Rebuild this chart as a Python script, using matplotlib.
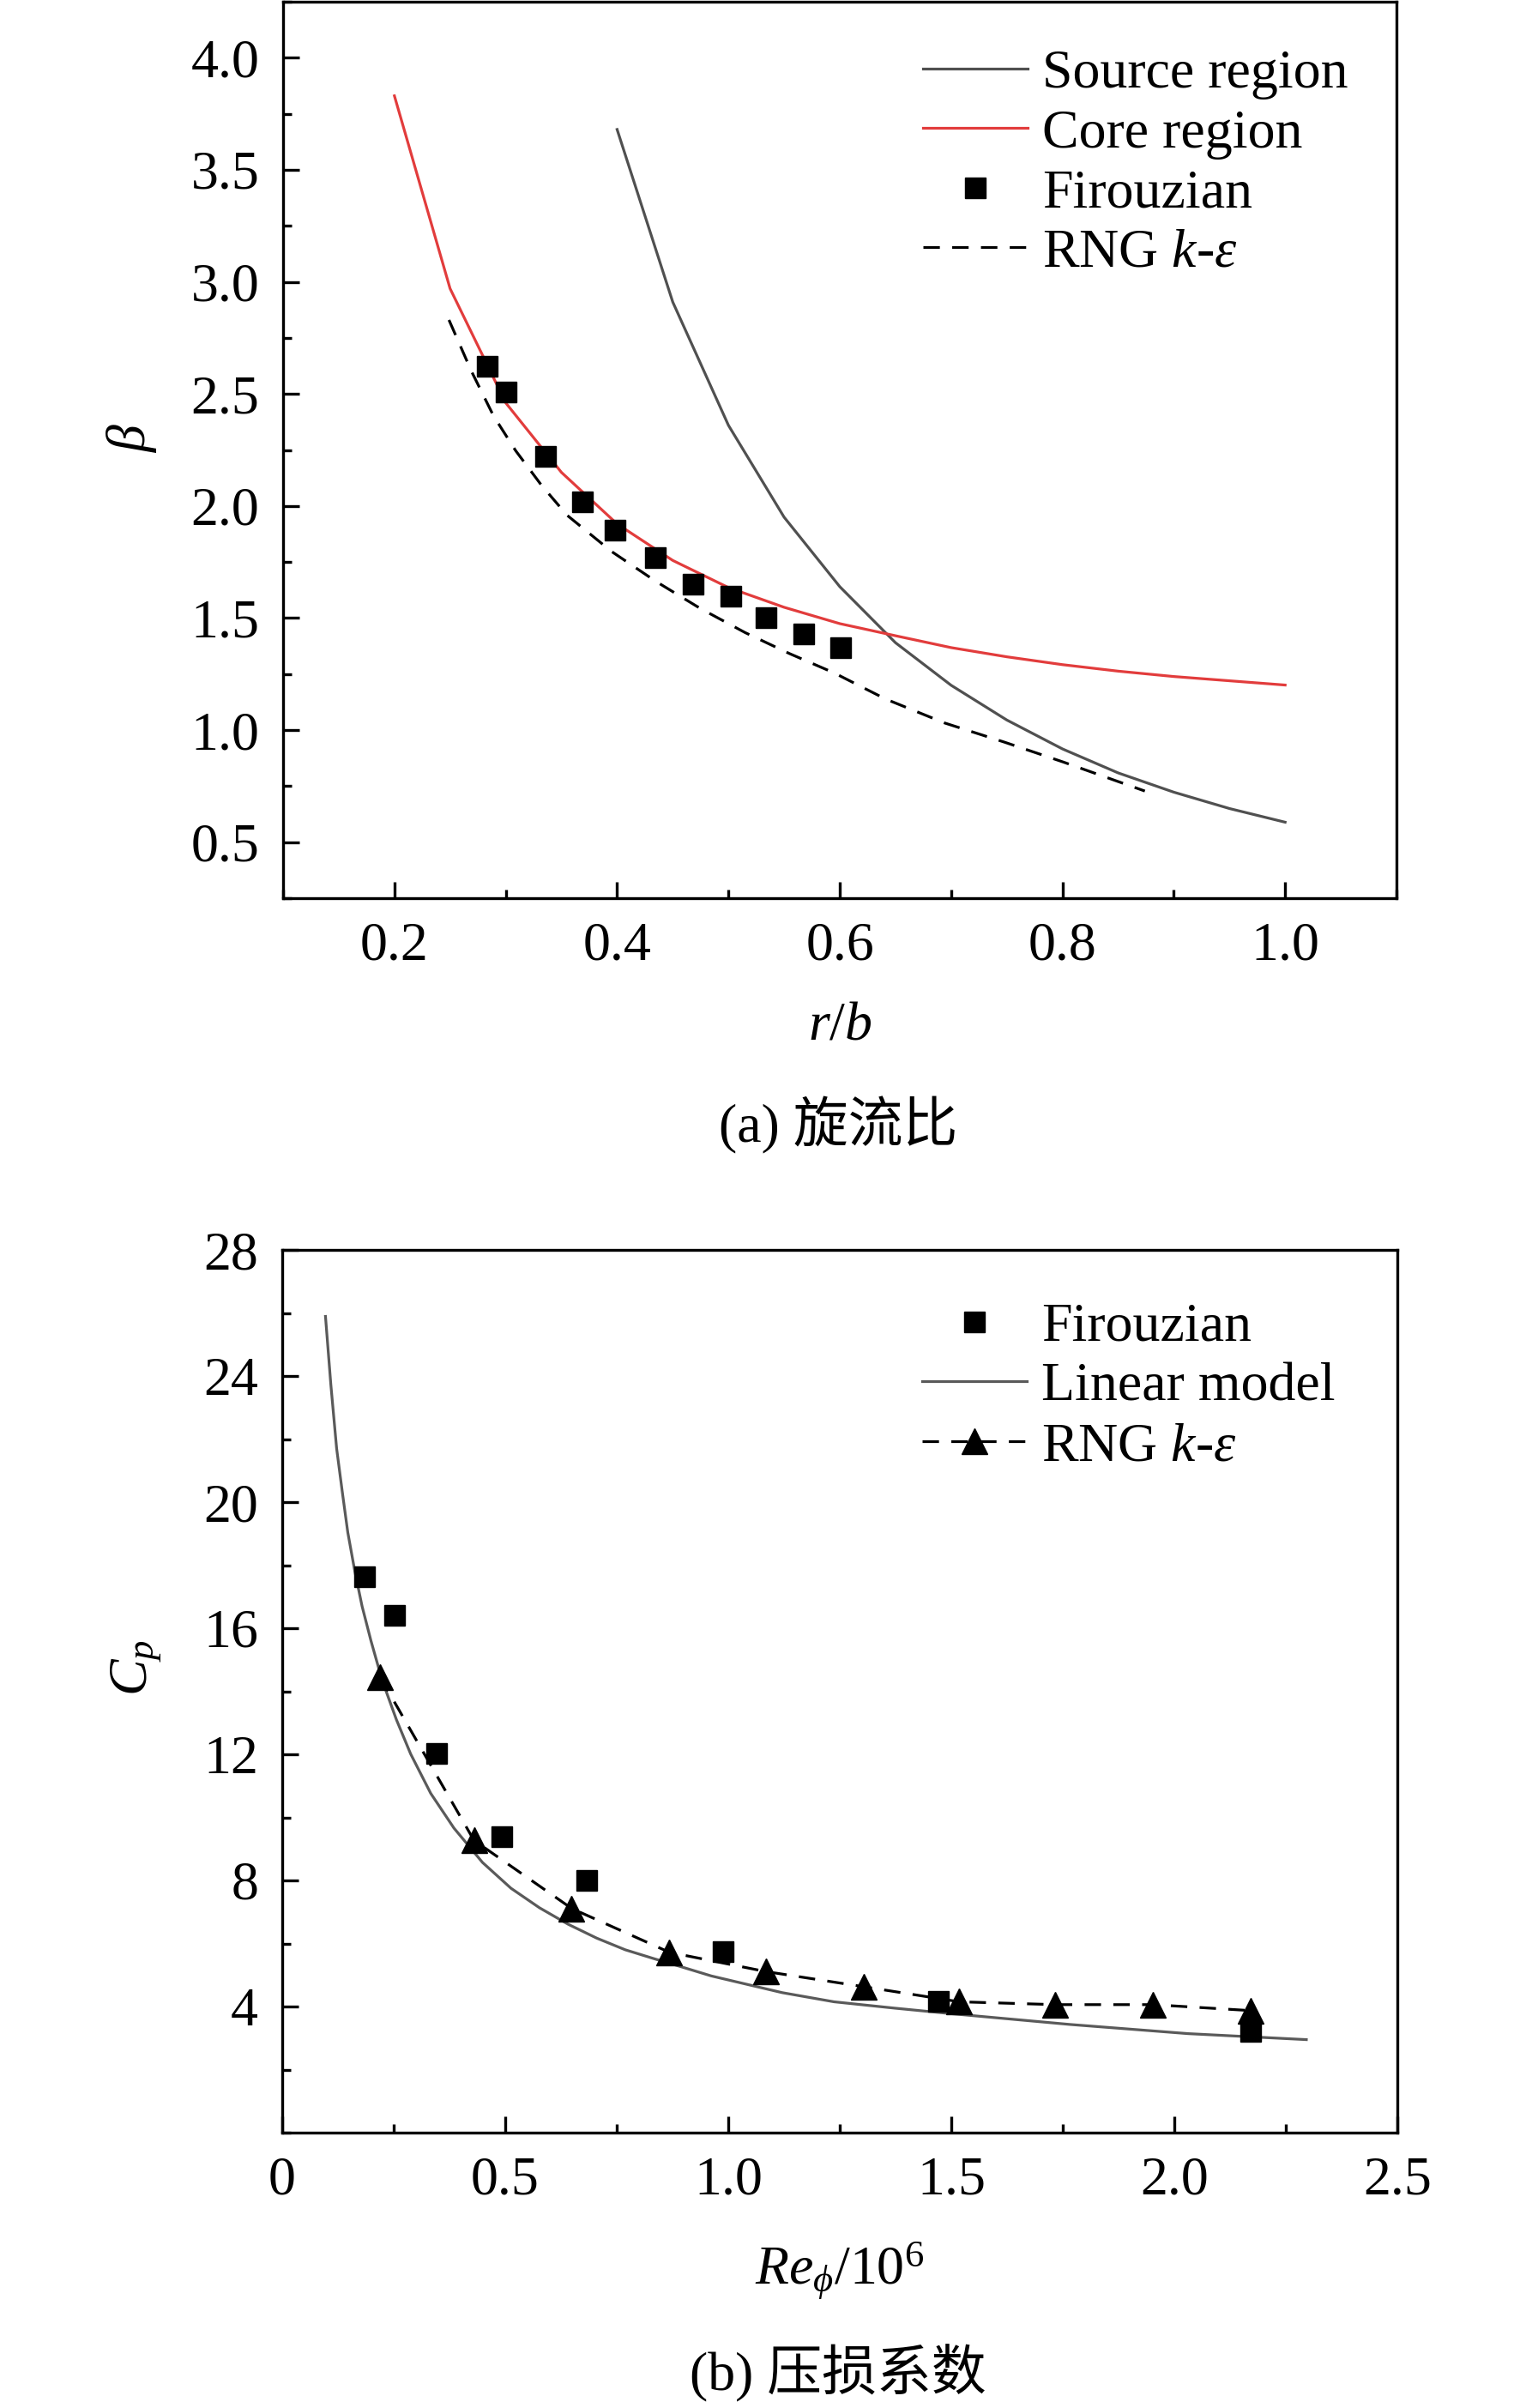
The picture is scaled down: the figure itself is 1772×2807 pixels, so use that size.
import matplotlib
matplotlib.use('Agg')
import matplotlib.pyplot as plt
from matplotlib.ticker import MultipleLocator

plt.rcParams['font.family'] = ['Liberation Serif', 'Noto Sans CJK SC']
plt.rcParams['mathtext.fontset'] = 'custom'
plt.rcParams['mathtext.rm'] = 'Liberation Serif'
plt.rcParams['mathtext.it'] = 'Liberation Serif:italic'
plt.rcParams['mathtext.bf'] = 'Liberation Serif:bold'

# ---- (a) swirl ratio ----
src_r = [0.40, 0.45, 0.50, 0.55, 0.60, 0.65, 0.70, 0.75, 0.80, 0.85, 0.90, 0.95, 1.00]
src_beta = [3.68, 2.91, 2.36, 1.95, 1.64, 1.39, 1.20, 1.045, 0.916, 0.809, 0.723, 0.650, 0.589]

core_r = [0.20, 0.25, 0.30, 0.35, 0.40, 0.45, 0.50, 0.55, 0.60, 0.65, 0.70, 0.75, 0.80, 0.85, 0.90, 0.95, 1.00]
core_beta = [3.83, 2.97, 2.46, 2.15, 1.92, 1.757, 1.636, 1.548, 1.475, 1.421, 1.368, 1.327, 1.292, 1.263, 1.239, 1.220, 1.201]

fir_r = [0.283, 0.300, 0.336, 0.369, 0.398, 0.434, 0.468, 0.502, 0.534, 0.568, 0.601]
fir_beta = [2.625, 2.507, 2.222, 2.020, 1.894, 1.771, 1.650, 1.599, 1.502, 1.430, 1.368]

rng_r = [0.249, 0.269, 0.289, 0.309, 0.332, 0.355, 0.395, 0.435, 0.475, 0.515, 0.555, 0.595, 0.641, 0.694, 0.748, 0.801, 0.874]
rng_beta = [2.83, 2.603, 2.402, 2.246, 2.093, 1.959, 1.797, 1.663, 1.542, 1.435, 1.341, 1.255, 1.139, 1.032, 0.946, 0.857, 0.728]

# ---- (b) pressure loss coefficient ----
lin_re = [0.097, 0.109, 0.122, 0.135, 0.147, 0.163, 0.179, 0.199, 0.224, 0.256, 0.288, 0.333,
          0.385, 0.449, 0.513, 0.577, 0.641, 0.705, 0.769, 0.833, 0.897, 0.962, 1.121, 1.237,
          1.372, 1.502, 1.767, 2.031, 2.296]
lin_cp = [25.89, 23.73, 21.70, 20.29, 19.04, 17.79, 16.70, 15.60, 14.35, 13.10, 12.01, 10.76,
          9.66, 8.57, 7.75, 7.13, 6.61, 6.17, 5.80, 5.52, 5.25, 4.97, 4.44, 4.15,
          3.95, 3.77, 3.43, 3.14, 2.95]

firb_re = [0.185, 0.252, 0.346, 0.492, 0.682, 0.988, 1.472, 2.172]
firb_cp = [17.64, 16.40, 12.03, 9.40, 8.01, 5.74, 4.15, 3.20]

rngb_re = [0.219, 0.430, 0.649, 0.868, 1.084, 1.303, 1.518, 1.733, 1.952, 2.172]
rngb_cp = [14.46, 9.27, 7.11, 5.72, 5.11, 4.63, 4.15, 4.06, 4.06, 3.87]

FS = 46
LW = 2.3

fig = plt.figure(figsize=(17.72, 28.07), dpi=100)
ax1 = fig.add_axes([330/1772, 1-1047/2807, 1298/1772, 1045/2807])
ax2 = fig.add_axes([329/1772, 1-2486/2807, 1300/1772, 1029/2807])

def style(ax):
    for s in ax.spines.values():
        s.set_linewidth(2.4)
    ax.tick_params(which='both', direction='in', width=2.4, labelsize=FS, pad=20,
                   top=False, right=False)
    ax.tick_params(which='major', length=14)
    ax.tick_params(which='minor', length=7)

ax1.plot(src_r, src_beta, color='#505050', lw=LW, label='Source region')
ax1.plot(core_r, core_beta, color='#e23c3c', lw=LW, label='Core region')
ax1.plot(fir_r, fir_beta, 's', color='black', ms=17, label='Firouzian', zorder=4)
ax1.plot(rng_r, rng_beta, color='black', lw=LW, dashes=(6, 4.5), label='RNG $k$-$\\varepsilon$')
ax1.set_xlim(0.1, 1.1)
ax1.set_ylim(0.25, 4.25)
ax1.set_xticks([0.2, 0.4, 0.6, 0.8, 1.0])
ax1.set_xticklabels(['0.2', '0.4', '0.6', '0.8', '1.0'])
ax1.xaxis.set_minor_locator(MultipleLocator(0.1))
ax1.set_yticks([0.5, 1.0, 1.5, 2.0, 2.5, 3.0, 3.5, 4.0])
ax1.set_yticklabels(['0.5', '1.0', '1.5', '2.0', '2.5', '3.0', '3.5', '4.0'])
ax1.yaxis.set_minor_locator(MultipleLocator(0.25))
style(ax1)
ax1.set_xlabel('$r/b$', fontsize=FS, va='center')
ax1.xaxis.set_label_coords(0.5, -0.1435)
ax1.set_ylabel('$\\beta$', fontsize=FS, va='center')
ax1.yaxis.set_label_coords(-0.136, 0.513)
ax1.legend(loc='upper left', bbox_to_anchor=(0.575, 0.947), frameon=False, fontsize=FS,
           borderpad=0, borderaxespad=0, handlelength=1.9, handletextpad=0.27,
           labelspacing=0.17)

ax2.plot(firb_re, firb_cp, 's', color='black', ms=17, label='Firouzian', zorder=4)
ax2.plot(lin_re, lin_cp, color='#5a5a5a', lw=LW, label='Linear model')
ax2.plot(rngb_re, rngb_cp, color='black', lw=LW, dashes=(6, 4.5), marker='^', ms=21,
         label='RNG $k$-$\\varepsilon$', zorder=5)
ax2.set_xlim(0, 2.5)
ax2.set_ylim(0, 28)
ax2.set_xticks([0, 0.5, 1.0, 1.5, 2.0, 2.5])
ax2.set_xticklabels(['0', '0.5', '1.0', '1.5', '2.0', '2.5'])
ax2.xaxis.set_minor_locator(MultipleLocator(0.25))
ax2.set_yticks([4, 8, 12, 16, 20, 24, 28])
ax2.yaxis.set_minor_locator(MultipleLocator(2))
style(ax2)
ax2.set_xlabel('$Re_{\\phi}/10^6$', fontsize=FS, va='center')
ax2.xaxis.set_label_coords(0.5, -0.1565)
ax2.set_ylabel('$C_p$', fontsize=FS, va='center')
ax2.yaxis.set_label_coords(-0.1315, 0.527)
ax2.legend(loc='upper left', bbox_to_anchor=(0.574, 0.9405), frameon=False, fontsize=FS,
           borderpad=0, borderaxespad=0, handlelength=1.9, handletextpad=0.27,
           labelspacing=0.17)

fig.text(977/1772, 1-1312/2807, '(a) 旋流比', fontsize=FS, ha='center', va='center')
fig.text(977/1772, 1-2767/2807, '(b) 压损系数', fontsize=FS, ha='center', va='center')

fig.savefig('out.png', dpi=100)
